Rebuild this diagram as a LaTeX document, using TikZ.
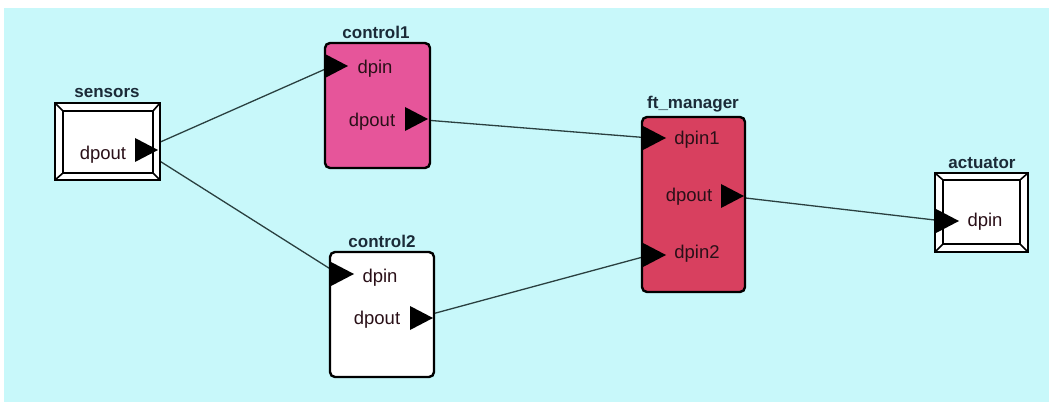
\documentclass[tikz,border=0pt]{standalone}
\usepackage{fontspec}
\setmainfont{Liberation Sans}
\usetikzlibrary{shapes.geometric}
\pgfdeclarelayer{back}
\pgfdeclarelayer{bg}
\pgfsetlayers{back,bg,main}
\definecolor{bgc}{HTML}{C8F8FA}
\definecolor{pinkc}{HTML}{E6559A}
\definecolor{crimc}{HTML}{D8405F}
\definecolor{titlec}{HTML}{1B2B38}
\definecolor{wirec}{HTML}{2A4040}
\definecolor{darktxt}{HTML}{2A1018}
\begin{document}
\begin{tikzpicture}[x=1pt,y=-1pt,
  title/.style={font=\bfseries\fontsize{17}{19}\selectfont, text=titlec, inner sep=0pt},
  ptxt/.style={font=\fontsize{18.5}{20}\selectfont, text=darktxt, inner sep=0pt},
  port/.style={isosceles triangle, isosceles triangle stretches, shape border rotate=0,
    fill=black, draw=none, inner sep=0pt, outer sep=0pt, minimum width=24pt, minimum height=23pt, anchor=apex},
  blk/.style={draw=black, line width=2.4pt, rounded corners=5pt, inner sep=0pt, outer sep=0pt},
  frame/.style={draw=black, line width=2pt, fill=white, inner sep=0pt, outer sep=0pt},
  wire/.style={draw=wirec, line width=1.3pt}]
\useasboundingbox (0,0) rectangle (1049,403);
\begin{pgfonlayer}{back}
\fill[bgc] (4,8) rectangle (1049,402);
\end{pgfonlayer}

% sensors
\node[frame, minimum width=105pt, minimum height=77pt] (sensors) at (107.5,141.5) {};
\node[draw=black, line width=2pt, inner sep=0pt, outer sep=0pt, minimum width=90pt, minimum height=62pt] (sensorsin) at (108,142) {};
\foreach \a in {north west,north east,south west,south east}
  \draw[line width=1.6pt] (sensors.\a) -- (sensorsin.\a);
\node[title] (sensorst) at (107,93) {sensors};
\node[ptxt] (sensorsouttxt) at (103,155) {dpout};
\node[port] (sp) at (158,150) {};

% control1
\node[blk, fill=pinkc, minimum width=105pt, minimum height=125pt] (c1) at (377.5,105.5) {};
\node[title] (c1t) at (376,32) {control1};
\node[ptxt] (c1intxt) at (375,69) {dpin};
\node[ptxt] (c1outtxt) at (372,122) {dpout};
\node[port] (c1in) at (348,66) {};
\node[port] (c1out) at (428,119) {};

% control2
\node[blk, fill=white, minimum width=104pt, minimum height=125pt] (c2) at (382,314.5) {};
\node[title] (c2t) at (382,241) {control2};
\node[ptxt] (c2intxt) at (380,278) {dpin};
\node[ptxt] (c2outtxt) at (377,320) {dpout};
\node[port] (c2in) at (354,274) {};
\node[port] (c2out) at (433,318) {};

% ft_manager
\node[blk, fill=crimc, minimum width=103pt, minimum height=175pt] (fm) at (693.5,204.5) {};
\node[title] (fmt) at (693,104) {ft\_manager};
\node[ptxt] (fin1txt) at (697,140) {dpin1};
\node[ptxt] (fouttxt) at (689,197) {dpout};
\node[ptxt] (fin2txt) at (697,254) {dpin2};
\node[port] (fin1) at (666,138) {};
\node[port] (fout) at (744,196) {};
\node[port] (fin2) at (666,255) {};

% actuator
\node[frame, minimum width=93pt, minimum height=79pt] (act) at (981.5,212.5) {};
\node[draw=black, line width=2pt, inner sep=0pt, outer sep=0pt, minimum width=77pt, minimum height=64pt] (actin) at (981.5,212) {};
\foreach \a in {north west,north east,south west,south east}
  \draw[line width=1.6pt] (act.\a) -- (actin.\a);
\node[title] (actt) at (982,163) {actuator};
\node[ptxt] (aintxt) at (985,222) {dpin};
\node[port] (ain) at (959,221) {};

\begin{pgfonlayer}{bg}
\draw[wire] (sp.center) -- (c1in.center);
\draw[wire] (sp.center) -- (c2in.center);
\draw[wire] (c1out.center) -- (fin1.center);
\draw[wire] (c2out.center) -- (fin2.center);
\draw[wire] (fout.center) -- (ain.center);
\end{pgfonlayer}
\end{tikzpicture}
\end{document}
